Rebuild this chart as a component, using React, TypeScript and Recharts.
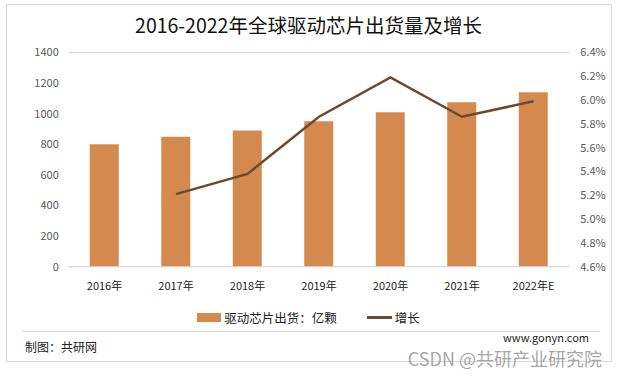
import React from 'react'
import {
  ComposedChart, Bar, Line, XAxis, YAxis, CartesianGrid,
} from 'recharts'

const years = ['2016年', '2017年', '2018年', '2019年', '2020年', '2021年', '2022年E']
const shipments = [800, 850, 890, 950, 1010, 1075, 1140]
const growth: (number | null)[] = [null, 5.21, 5.38, 5.86, 6.19, 5.86, 5.99]
const leftTicks = [0, 200, 400, 600, 800, 1000, 1200, 1400]
const rightTicks = [4.6, 4.8, 5.0, 5.2, 5.4, 5.6, 5.8, 6.0, 6.2, 6.4]

const FONT = '"Noto Sans CJK SC", "Noto Sans", sans-serif'
const BAR = '#D48A4E'
const LINE = '#6B4A2F'

const data = years.map((y, i) => ({ year: y, shipments: shipments[i], growth: growth[i] }))

export default function App() {
  return (
    <div style={{ position: 'absolute', left: 0, top: 0, width: 617, height: 376, background: '#fff', fontFamily: FONT }}>
      {/* frame */}
      <div style={{ position: 'absolute', left: 6, top: 4, width: 604, height: 356, border: '1px solid #D9D9D9' }} />
      <div style={{ position: 'absolute', left: 22, top: 331, width: 578, height: 1, background: '#D9D9D9' }} />

      <div style={{ position: 'absolute', left: 0, top: 10, width: 617, textAlign: 'center', fontSize: 19.5, color: '#111' }}>
        2016-2022年全球驱动芯片出货量及增长
      </div>

      <div style={{ position: 'absolute', left: 0, top: 0 }}>
        <ComposedChart
          width={617}
          height={376}
          data={data}
          margin={{ top: 52.5, right: 0.75, bottom: 79.3, left: 8.75 }}
        >
          <CartesianGrid vertical={false} stroke="#D9D9D9" />
          <XAxis
            dataKey="year"
            axisLine={{ stroke: '#D9D9D9' }}
            tickLine={false}
            tickSize={0}
            tickMargin={15}
            height={30}
            tick={{ fontSize: 11, fill: '#222', fontFamily: FONT }}
            interval={0}
          />
          <YAxis
            yAxisId="left"
            width={60}
            domain={[0, 1400]}
            ticks={leftTicks}
            axisLine={false}
            tickLine={false}
            tickSize={0}
            tickMargin={10}
            tick={{ fontSize: 11, fill: '#595959', fontFamily: FONT }}
          />
          <YAxis
            yAxisId="right"
            orientation="right"
            width={47}
            domain={[4.6, 6.4]}
            ticks={rightTicks}
            axisLine={false}
            tickLine={false}
            tickSize={0}
            tickMargin={11}
            tickFormatter={v => `${Number(v).toFixed(1)}%`}
            tick={{ fontSize: 11, fill: '#595959', fontFamily: FONT }}
          />
          <Bar yAxisId="left" dataKey="shipments" fill={BAR} barSize={29} isAnimationActive={false} />
          <Line
            yAxisId="right"
            dataKey="growth"
            stroke={LINE}
            strokeWidth={2.5}
            dot={false}
            activeDot={false}
            connectNulls={false}
            isAnimationActive={false}
          />
        </ComposedChart>
      </div>

      {/* legend */}
      <div style={{ position: 'absolute', left: 0, top: 308, width: 617, display: 'flex', justifyContent: 'center', alignItems: 'center', fontSize: 12.5, color: '#222' }}>
        <span style={{ display: 'inline-block', width: 24, height: 9, background: BAR, marginRight: 3 }} />
        <span>驱动芯片出货：亿颗</span>
        <span style={{ display: 'inline-block', width: 25, height: 3, background: LINE, marginLeft: 30, marginRight: 3 }} />
        <span>增长</span>
      </div>

      <div style={{ position: 'absolute', left: 25, top: 338, fontSize: 12, color: '#222' }}>制图：共研网</div>
      <div style={{ position: 'absolute', left: 503, top: 330, fontSize: 11, lineHeight: '14px', color: '#222' }}>www.gonyn.com</div>
      <div style={{ position: 'absolute', right: 15, top: 348, fontSize: 18, lineHeight: '20px', color: 'rgba(150,150,150,0.85)' }}>CSDN @共研产业研究院</div>
    </div>
  )
}
